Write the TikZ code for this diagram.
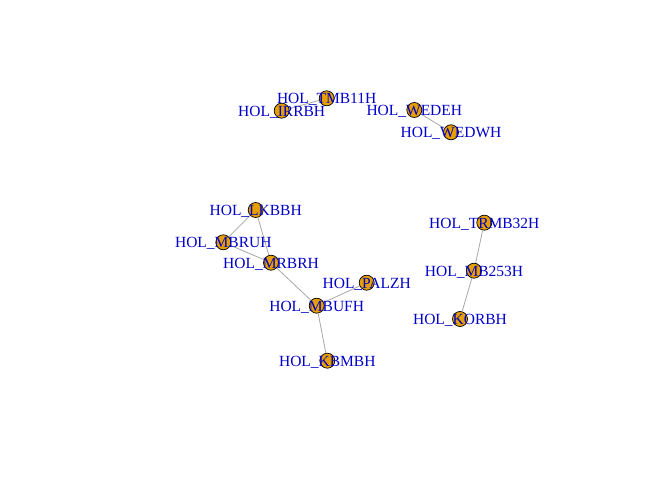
\documentclass[tikz,border=0pt]{standalone}
\usepackage{fontspec}
\setmainfont{Liberation Serif}
\definecolor{vfill}{HTML}{E69F00}
\definecolor{lblue}{HTML}{0000C8}
\definecolor{egray}{HTML}{A8A8A8}
\begin{document}
\begin{tikzpicture}[x=1bp,y=-1bp,
  vtx/.style={circle,draw=black,fill=vfill,line width=0.7bp,minimum size=15bp,inner sep=0pt},
  lbl/.style={text=lblue,font=\fontsize{15.5bp}{18bp}\selectfont,inner sep=0pt,anchor=center,yshift=-1.5bp},
  edge/.style={draw=egray,line width=0.8bp}]
\useasboundingbox (0,0) rectangle (672,480);
\fill[white] (0,0) rectangle (672,480);
% vertices
\node[vtx] (TMB) at (326.7,98.3) {};
\node[vtx] (IRR) at (281.7,110.7) {};
\node[vtx] (WEE) at (414.3,110) {};
\node[vtx] (WEW) at (451,132.3) {};
\node[vtx] (LKB) at (255.7,210) {};
\node[vtx] (MBR) at (223.3,242.3) {};
\node[vtx] (MRB) at (271,262.7) {};
\node[vtx] (PAL) at (366.7,282.7) {};
\node[vtx] (MBU) at (316.7,305.7) {};
\node[vtx] (KBM) at (327.3,360.7) {};
\node[vtx] (TRM) at (484.3,222.7) {};
\node[vtx] (M25) at (474,270.7) {};
\node[vtx] (KOR) at (460,319) {};
% edges
\draw[edge] (IRR) -- (TMB);
\draw[edge] (WEE) -- (WEW);
\draw[edge] (LKB) -- (MBR);
\draw[edge] (LKB) -- (MRB);
\draw[edge] (MBR) -- (MRB);
\draw[edge] (MRB) -- (MBU);
\draw[edge] (MBU) -- (PAL);
\draw[edge] (MBU) -- (KBM);
\draw[edge] (TRM) -- (M25);
\draw[edge] (M25) -- (KOR);
% labels
\node[lbl] (tTMB) at (TMB) {HOL\_TMB11H};
\node[lbl] (tIRR) at (IRR) {HOL\_IRRBH};
\node[lbl] (tWEE) at (WEE) {HOL\_WEDEH};
\node[lbl] (tWEW) at (WEW) {HOL\_WEDWH};
\node[lbl] (tLKB) at (LKB) {HOL\_LKBBH};
\node[lbl] (tMBR) at (MBR) {HOL\_MBRUH};
\node[lbl] (tMRB) at (MRB) {HOL\_MRBRH};
\node[lbl] (tPAL) at (PAL) {HOL\_PALZH};
\node[lbl] (tMBU) at (MBU) {HOL\_MBUFH};
\node[lbl] (tKBM) at (KBM) {HOL\_KBMBH};
\node[lbl] (tTRM) at (TRM) {HOL\_TRMB32H};
\node[lbl] (tM25) at (M25) {HOL\_MB253H};
\node[lbl] (tKOR) at (KOR) {HOL\_KORBH};
\end{tikzpicture}
\end{document}
